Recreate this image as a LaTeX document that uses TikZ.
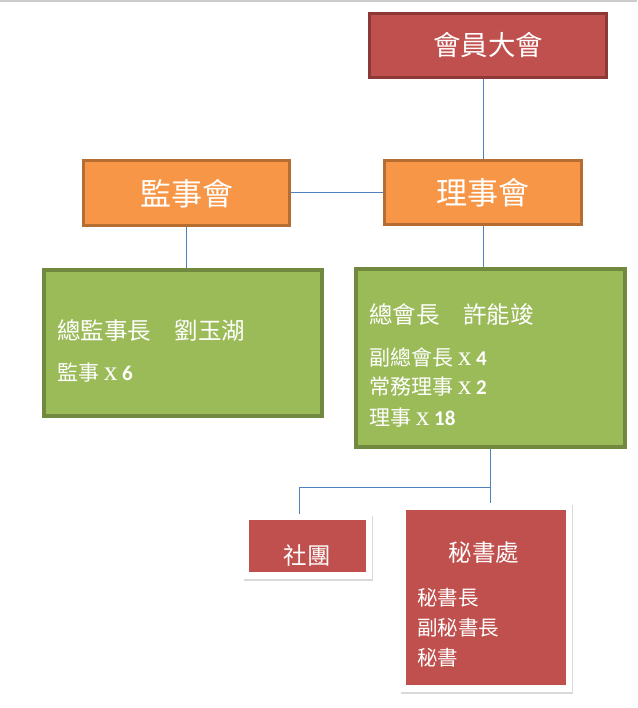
\documentclass[tikz,border=0pt]{standalone}
\usepackage{fontspec}
\setmainfont{Noto Sans CJK TC}
\newfontfamily\serifx[Scale=1.3]{Liberation Serif}
\newfontfamily\numfont{Carlito}
\usetikzlibrary{shadows}

\definecolor{boxred}{HTML}{C0504D}
\definecolor{edgered}{HTML}{8C3836}
\definecolor{boxorange}{HTML}{F79646}
\definecolor{edgeorange}{HTML}{B66D31}
\definecolor{boxgreen}{HTML}{9BBB59}
\definecolor{edgegreen}{HTML}{71893F}
\definecolor{linkblue}{HTML}{4F81BD}

\tikzset{
  redbox/.style={draw=edgered, fill=boxred, line width=3pt, text=white, inner sep=0pt},
  orangebox/.style={draw=edgeorange, fill=boxorange, line width=3pt, text=white, inner sep=0pt},
  greenbox/.style={draw=edgegreen, fill=boxgreen, line width=4pt, inner sep=0pt},
  framebox/.style={fill=white, inner sep=0pt, drop shadow={opacity=0.3, shadow xshift=1pt, shadow yshift=-2pt}},
  inbox/.style={fill=boxred, inner sep=0pt},
  label/.style={text=white, inner sep=0pt, anchor=west},
  link/.style={draw=linkblue, line width=0.9pt}
}

\begin{document}
\begin{tikzpicture}[x=1pt, y=-1pt]
  \useasboundingbox (0,0) rectangle (637,708);
  %top rule
  \draw[color=black!20, line width=1.5pt] (0,1) -- (637,1);

  %draw top boxes
  \node[redbox, minimum width=237pt, minimum height=64pt, font=\fontsize{27.5}{30}\selectfont] (meeting) at (488,45.5) {會員大會};
  \node[orangebox, minimum width=197pt, minimum height=64pt, font=\fontsize{31}{34}\selectfont] (board) at (483,192.5) {理事會};
  \node[orangebox, minimum width=206pt, minimum height=65pt, font=\fontsize{31}{34}\selectfont] (supervisors) at (186.5,193.5) {監事會};

  %draw green boxes
  \node[greenbox, minimum width=278pt, minimum height=146pt] (supgreen) at (183,343) {};
  \node[label, font=\fontsize{23.5}{26}\selectfont] (suphead) at (57,331) {總監事長\hspace{1em}劉玉湖};
  \node[label, font=\fontsize{21}{24}\selectfont] (supcount) at (57,373) {監事 \serifx x\,\numfont\bfseries 6};

  \node[greenbox, minimum width=269pt, minimum height=178pt] (boardgreen) at (490.5,358) {};
  \node[label, font=\fontsize{23.5}{26}\selectfont] (boardhead) at (369,314) {總會長\hspace{1em}許能竣};
  \node[label, font=\fontsize{21}{24}\selectfont] (vice) at (369,357) {副總會長 \serifx x\,\numfont\bfseries 4};
  \node[label, font=\fontsize{21}{24}\selectfont] (standing) at (369,387) {常務理事 \serifx x\,\numfont\bfseries 2};
  \node[label, font=\fontsize{21}{24}\selectfont] (members) at (369,418) {理事 \serifx x\,\numfont\bfseries 18};

  %draw bottom boxes
  \node[framebox, minimum width=129pt, minimum height=65pt] (clubframe) at (307.5,546.5) {};
  \node[inbox, minimum width=117pt, minimum height=52pt] (club) at (307.5,546) {};
  \node[text=white, inner sep=0pt, font=\fontsize{23.5}{26}\selectfont] (clubname) at (307,556) {社團};

  \node[framebox, minimum width=172pt, minimum height=189pt] (secframe) at (486,597.5) {};
  \node[inbox, minimum width=160pt, minimum height=175pt] (secretariat) at (486,597.5) {};
  \node[text=white, inner sep=0pt, font=\fontsize{23.5}{26}\selectfont] (sechead) at (484,553) {秘書處};
  \node[label, font=\fontsize{20.5}{24}\selectfont] (secchief) at (417,598) {秘書長};
  \node[label, font=\fontsize{20.5}{24}\selectfont] (secvice) at (417,628) {副秘書長};
  \node[label, font=\fontsize{20.5}{24}\selectfont] (secstaff) at (417,658) {秘書};

  %draw connectors
  \coordinate (split) at (490.5,487);
  \coordinate (clubin) at (299,514);
  \draw[link] (board.north) -- (board.north |- meeting.south);
  \draw[link] (board.west -| supervisors.east) -- (board.west);
  \draw[link] (supervisors.south) -- (supervisors.south |- supgreen.north);
  \draw[link] (board.south) -- (board.south |- boardgreen.north);
  \draw[link] (boardgreen.south -| split) -- (split);
  \draw[link] (split) -- (split |- secframe.north);
  \draw[link] (split) -| (clubin);
\end{tikzpicture}
\end{document}
